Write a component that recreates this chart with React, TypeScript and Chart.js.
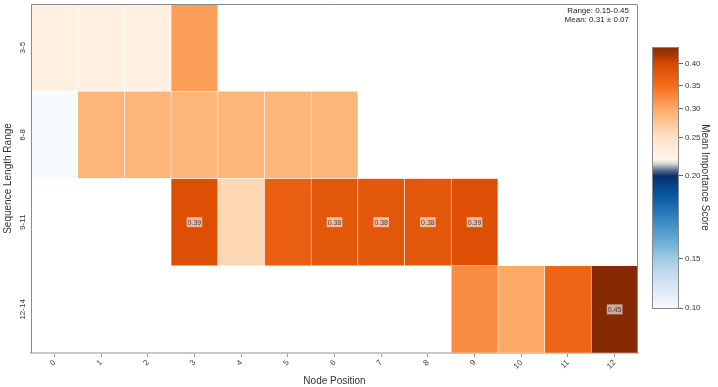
import React, { useEffect, useRef } from 'react';
import { Chart, registerables, LinearScale } from 'chart.js';

Chart.register(...registerables);

// ---------- data ----------
const nodePositions = ['0', '1', '2', '3', '4', '5', '6', '7', '8', '9', '10', '11', '12'];
const rowLabels = ['3-5', '6-8', '9-11', '12-14'];
const row3to5 = [0.23, 0.23, 0.23, 0.31, null, null, null, null, null, null, null, null, null];
const row6to8 = [0.10, 0.29, 0.29, 0.29, 0.29, 0.29, 0.29, null, null, null, null, null, null];
const row9to11 = [null, null, null, 0.39, 0.26, 0.37, 0.38, 0.38, 0.38, 0.39, null, null, null];
const row12to14 = [null, null, null, null, null, null, null, null, null, 0.325, 0.30, 0.36, 0.45];
const rows = [row3to5, row6to8, row9to11, row12to14];
const colorbarTicks = [0.10, 0.15, 0.20, 0.25, 0.30, 0.35, 0.40];
const labelThreshold = 0.38;
const statsLines = ['Range: 0.15-0.45', 'Mean: 0.31 \u00b1 0.07'];

// ---------- colour norm (value -> fraction of colorbar) ----------
const normValues = [0.10, 0.15, 0.20, 0.25, 0.30, 0.35, 0.40, 0.445];
const normFracs = [0, 0.189, 0.506, 0.653, 0.763, 0.851, 0.935, 1.0];

function valueToFrac(v: number): number {
  if (v <= normValues[0]) return 0;
  for (let i = 1; i < normValues.length; i++) {
    if (v <= normValues[i]) {
      const t = (v - normValues[i - 1]) / (normValues[i] - normValues[i - 1]);
      return normFracs[i - 1] + t * (normFracs[i] - normFracs[i - 1]);
    }
  }
  return 1;
}
function fracToValue(f: number): number {
  if (f <= 0) return normValues[0];
  for (let i = 1; i < normFracs.length; i++) {
    if (f <= normFracs[i]) {
      const t = (f - normFracs[i - 1]) / (normFracs[i] - normFracs[i - 1]);
      return normValues[i - 1] + t * (normValues[i] - normValues[i - 1]);
    }
  }
  return normValues[normValues.length - 1];
}

// colormap stops in colorbar fraction
const blues = ['#f7fbff', '#deebf7', '#c6dbef', '#9ecae1', '#6baed6', '#4292c6', '#2171b5', '#08519c', '#08306b'];
const cmapStops: [number, string][] = [
  ...blues.map((c, i) => [(i * 0.506) / 8, c] as [number, string]),
  [0.528, '#5a7090'],
  [0.552, '#d6d4d4'],
  [0.57, '#fff5eb'],
  [0.653, '#fee3c8'],
  [0.763, '#fdab67'],
  [0.851, '#f36d1a'],
  [0.935, '#d94801'],
  [0.97, '#a63603'],
  [1.0, '#862a04'],
];

function hexRgb(h: string) {
  return [parseInt(h.slice(1, 3), 16), parseInt(h.slice(3, 5), 16), parseInt(h.slice(5, 7), 16)];
}
function colorAtFrac(f: number): string {
  const x = Math.max(0, Math.min(1, f));
  for (let i = 1; i < cmapStops.length; i++) {
    if (x <= cmapStops[i][0]) {
      const [f0, c0] = cmapStops[i - 1];
      const [f1, c1] = cmapStops[i];
      const t = (x - f0) / (f1 - f0 || 1);
      const a = hexRgb(c0), b = hexRgb(c1);
      const r = a.map((v, k) => Math.round(v + t * (b[k] - v)));
      return `rgb(${r[0]},${r[1]},${r[2]})`;
    }
  }
  return cmapStops[cmapStops.length - 1][1];
}
const colorFor = (v: number) => colorAtFrac(valueToFrac(v));

// ---------- custom scale for the colorbar ----------
class NormScale extends LinearScale {
  static id = 'norm';
  static defaults = LinearScale.defaults;
  getPixelForValue(value: number) {
    return this.getPixelForDecimal(valueToFrac(value));
  }
  getValueForPixel(pixel: number) {
    return fracToValue(this.getDecimalForPixel(pixel));
  }
}
Chart.register(NormScale as any);

const FONT = "'Liberation Sans', Arial, Helvetica, sans-serif";
Chart.defaults.font.family = FONT;
Chart.defaults.color = '#333';

export default function App() {
  const mainRef = useRef<HTMLCanvasElement | null>(null);
  const cbRef = useRef<HTMLCanvasElement | null>(null);

  useEffect(() => {
    const framePlugin = {
      id: 'frameAndLabels',
      afterDatasetsDraw(chart: any) {
        const { ctx, chartArea: a, scales } = chart;
        ctx.save();
        // cell value labels
        ctx.font = `7px ${FONT}`;
        ctx.textAlign = 'center';
        ctx.textBaseline = 'middle';
        rows.forEach((vals, r) => {
          vals.forEach((v, c) => {
            if (v == null || v < labelThreshold) return;
            const x = scales.x.getPixelForValue(c);
            const y = scales.y.getPixelForValue(r);
            const txt = v.toFixed(2);
            const w = ctx.measureText(txt).width + 2;
            ctx.fillStyle = 'rgba(255,255,255,0.6)';
            ctx.fillRect(x - w / 2, y - 5, w, 10);
            ctx.fillStyle = '#444';
            ctx.fillText(txt, x, y + 0.5);
          });
        });
        // frame
        ctx.strokeStyle = '#8a8a8a';
        ctx.lineWidth = 1;
        ctx.beginPath();
        ctx.moveTo(a.left + 0.5, a.bottom);
        ctx.lineTo(a.left + 0.5, a.top + 0.5);
        ctx.lineTo(a.right - 0.5, a.top + 0.5);
        ctx.lineTo(a.right - 0.5, a.bottom);
        ctx.stroke();
        ctx.restore();
      },
      afterDraw(chart: any) {
        const { ctx, chartArea: a, scales } = chart;
        ctx.save();
        // y tick labels rotated
        ctx.font = `8px ${FONT}`;
        ctx.fillStyle = '#333';
        ctx.textAlign = 'center';
        ctx.textBaseline = 'middle';
        rowLabels.forEach((lab, r) => {
          const y = scales.y.getPixelForValue(r);
          ctx.save();
          ctx.translate(a.left - 8, y);
          ctx.rotate(-Math.PI / 2);
          ctx.fillText(lab, 0, 0);
          ctx.restore();
        });
        // stats text
        ctx.font = `8px ${FONT}`;
        ctx.textAlign = 'right';
        ctx.textBaseline = 'middle';
        ctx.fillStyle = '#222';
        statsLines.forEach((s, i) => ctx.fillText(s, a.right - 9, a.top + 7 + i * 9));
        ctx.restore();
      },
    };

    const datasets = rows.map((vals, r) => ({
      data: vals.map((v) => (v == null ? null : [r - 0.5, r + 0.5])),
      backgroundColor: vals.map((v) => (v == null ? 'rgba(0,0,0,0)' : colorFor(v))),
      borderColor: 'rgba(255,255,255,0.5)',
      borderWidth: 0.6,
      borderSkipped: false,
      grouped: false,
      barPercentage: 1,
      categoryPercentage: 1,
    }));

    const main = new Chart(mainRef.current!, {
      type: 'bar',
      data: { labels: nodePositions, datasets: datasets as any },
      options: {
        responsive: false,
        animation: false,
        events: [],
        layout: { padding: { left: 0, top: 4, right: 80, bottom: 0 } },
        plugins: { legend: { display: false }, tooltip: { enabled: false } },
        scales: {
          x: {
            type: 'category',
            z: 1,
            grid: { offset: false, drawOnChartArea: false, drawTicks: true, tickLength: 4, color: '#999' },
            border: { color: '#c8c8c8', width: 2 },
            ticks: { minRotation: 45, maxRotation: 45, font: { size: 8 }, color: '#444', padding: 1 },
            title: { display: true, text: 'Node Position', font: { size: 10 }, color: '#333', padding: { top: 5, bottom: 0 } },
            afterFit: (s: any) => { s.height = 34; },
          },
          y: {
            type: 'linear',
            min: -0.5,
            max: 3.5,
            reverse: true,
            grid: { display: false },
            border: { display: false },
            ticks: { display: false },
            title: { display: true, text: 'Sequence Length Range', font: { size: 10 }, color: '#333', padding: { top: 2, bottom: 0 } },
            afterFit: (s: any) => { s.width = 31; },
          },
        },
      } as any,
      plugins: [framePlugin],
    });

    const cbPlugin = {
      id: 'colorbar',
      beforeDatasetsDraw(chart: any) {
        const { ctx, chartArea: a } = chart;
        ctx.save();
        const g = ctx.createLinearGradient(0, a.bottom, 0, a.top);
        cmapStops.forEach(([f, c]) => g.addColorStop(f, c));
        ctx.fillStyle = g;
        ctx.fillRect(a.left, a.top, a.right - a.left, a.bottom - a.top);
        ctx.strokeStyle = '#8a8a8a';
        ctx.lineWidth = 1;
        ctx.strokeRect(a.left + 0.5, a.top + 0.5, a.right - a.left - 1, a.bottom - a.top);
        ctx.restore();
      },
    };

    const cb = new Chart(cbRef.current!, {
      type: 'bar',
      data: { labels: [''], datasets: [] },
      options: {
        responsive: false,
        animation: false,
        events: [],
        layout: { padding: { left: 12, top: 47, right: 0, bottom: 79 } },
        plugins: { legend: { display: false }, tooltip: { enabled: false } },
        scales: {
          x: { display: false },
          y: {
            type: 'norm',
            position: 'right',
            min: 0.10,
            max: 0.445,
            grid: { drawOnChartArea: false, drawTicks: true, tickLength: 4, color: '#666' },
            border: { display: false },
            ticks: {
              font: { size: 8 },
              color: '#333',
              padding: 2,
              callback: (v: any) => Number(v).toFixed(2),
            },
            afterBuildTicks: (s: any) => { s.ticks = colorbarTicks.map((v) => ({ value: v })); },
            title: { display: true, text: 'Mean Importance Score', font: { size: 10 }, color: '#333', padding: { top: 7, bottom: 0 } },
            afterFit: (s: any) => { s.width = 39; },
          },
        },
      } as any,
      plugins: [cbPlugin],
    });

    return () => {
      main.destroy();
      cb.destroy();
    };
  }, []);

  return (
    <div style={{ position: 'fixed', left: 0, top: 0, width: 718, height: 387, background: '#fff' }}>
      <canvas ref={mainRef} width={718} height={387} style={{ position: 'absolute', left: 0, top: 0 }} />
      <canvas ref={cbRef} width={78} height={387} style={{ position: 'absolute', left: 640, top: 0 }} />
    </div>
  );
}
